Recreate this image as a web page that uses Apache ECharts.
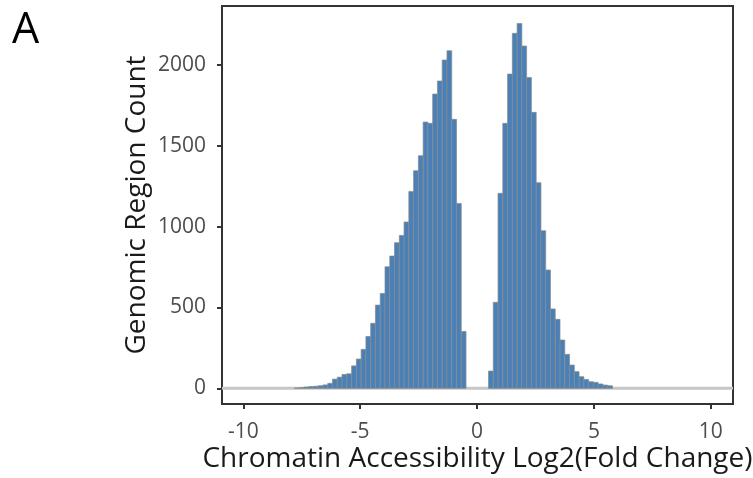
<!DOCTYPE html>
<html>
<head>
<meta charset="utf-8">
<script src="https://cdn.jsdelivr.net/npm/echarts@6/dist/echarts.min.js"></script>
<style>html,body{margin:0;padding:0;background:#fff;}#chart{width:753px;height:478px;}</style>
</head>
<body>
<div id="chart"></div>
<script>
// Histogram data
var binWidth = 0.204;
var leftEnd = -0.47;      // right edge of the last negative bin
var rightStart = 0.49;    // left edge of the first positive bin
var leftCounts = [2, 4, 8, 11, 13, 16, 21, 31, 57, 69, 86, 90, 139, 181, 241, 321, 402, 515, 587, 752, 818, 901, 946, 1029, 1218, 1346, 1439, 1647, 1639, 1820, 1901, 2031, 2088, 1664, 1144, 352];
var rightCounts = [107, 532, 1206, 1639, 1944, 2196, 2257, 2117, 1923, 1707, 1272, 975, 732, 491, 427, 299, 210, 144, 103, 72, 55, 41, 37, 27, 20, 16];
var xTicks = [-10, -5, 0, 5, 10];
var yTicks = [0, 500, 1000, 1500, 2000];
var xRange = [-10.91, 10.95];
var yRange = [-97, 2365];

var bins = [];
leftCounts.forEach(function (c, i) {
  var x1 = leftEnd - (leftCounts.length - 1 - i) * binWidth;
  bins.push([x1 - binWidth, x1, c]);
});
rightCounts.forEach(function (c, i) {
  var x0 = rightStart + i * binWidth;
  bins.push([x0, x0 + binWidth, c]);
});

var FONT = 'Open Sans';
var chart = echarts.init(document.getElementById('chart'), null, {renderer: 'canvas'});
chart.setOption({
  animation: false,
  backgroundColor: '#ffffff',
  title: {
    text: 'A', left: 7, top: 4,
    textStyle: {fontFamily: FONT, fontSize: 43, fontWeight: 'normal', color: '#000'}
  },
  grid: {
    left: 222, right: 20, top: 6, bottom: 74,
    outerBoundsMode: 'none', containLabel: false,
    show: true, borderColor: '#333333', borderWidth: 2, backgroundColor: 'transparent'
  },
  xAxis: {
    type: 'value', min: xRange[0], max: xRange[1],
    name: 'Chromatin Accessibility Log2(Fold Change)',
    nameLocation: 'middle', nameGap: 41, nameMoveOverlap: false,
    nameTextStyle: {fontFamily: FONT, fontSize: 28, color: '#1a1a1a'},
    axisLine: {show: false, onZero: false},
    splitLine: {show: false},
    axisTick: {show: true, customValues: xTicks, length: 5, inside: false, lineStyle: {color: '#333', width: 2}},
    axisLabel: {customValues: xTicks, margin: 18, fontFamily: FONT, fontSize: 21, color: '#4d4d4d',
      formatter: function (v) { return String(v); }}
  },
  yAxis: {
    type: 'value', min: yRange[0], max: yRange[1],
    name: 'Genomic Region Count',
    nameLocation: 'middle', nameGap: 71, nameMoveOverlap: false,
    nameTextStyle: {fontFamily: FONT, fontSize: 28, color: '#1a1a1a'},
    axisLine: {show: false, onZero: false},
    splitLine: {show: false},
    axisTick: {show: true, customValues: yTicks, length: 5, lineStyle: {color: '#333', width: 2}},
    axisLabel: {customValues: yTicks, margin: 16, fontFamily: FONT, fontSize: 21, color: '#4d4d4d',
      formatter: function (v) { return String(v); }}
  },
  series: [
    {
      type: 'line', name: 'zero', z: 1, silent: true, symbol: 'none',
      data: [[xRange[0], 0], [xRange[1], 0]],
      lineStyle: {color: '#c6c6c6', width: 3}
    },
    {
      type: 'custom', name: 'counts', z: 2,
      data: bins,
      encode: {x: [0, 1], y: 2},
      renderItem: function (params, api) {
        var p0 = api.coord([api.value(0), api.value(2)]);
        var p1 = api.coord([api.value(1), 0]);
        return {
          type: 'rect',
          shape: {x: p0[0], y: p0[1], width: p1[0] - p0[0], height: p1[1] - p0[1]},
          style: {fill: '#4A80B8', stroke: '#8a8a8a', lineWidth: 0.7}
        };
      }
    }
  ]
});
</script>
</body>
</html>
